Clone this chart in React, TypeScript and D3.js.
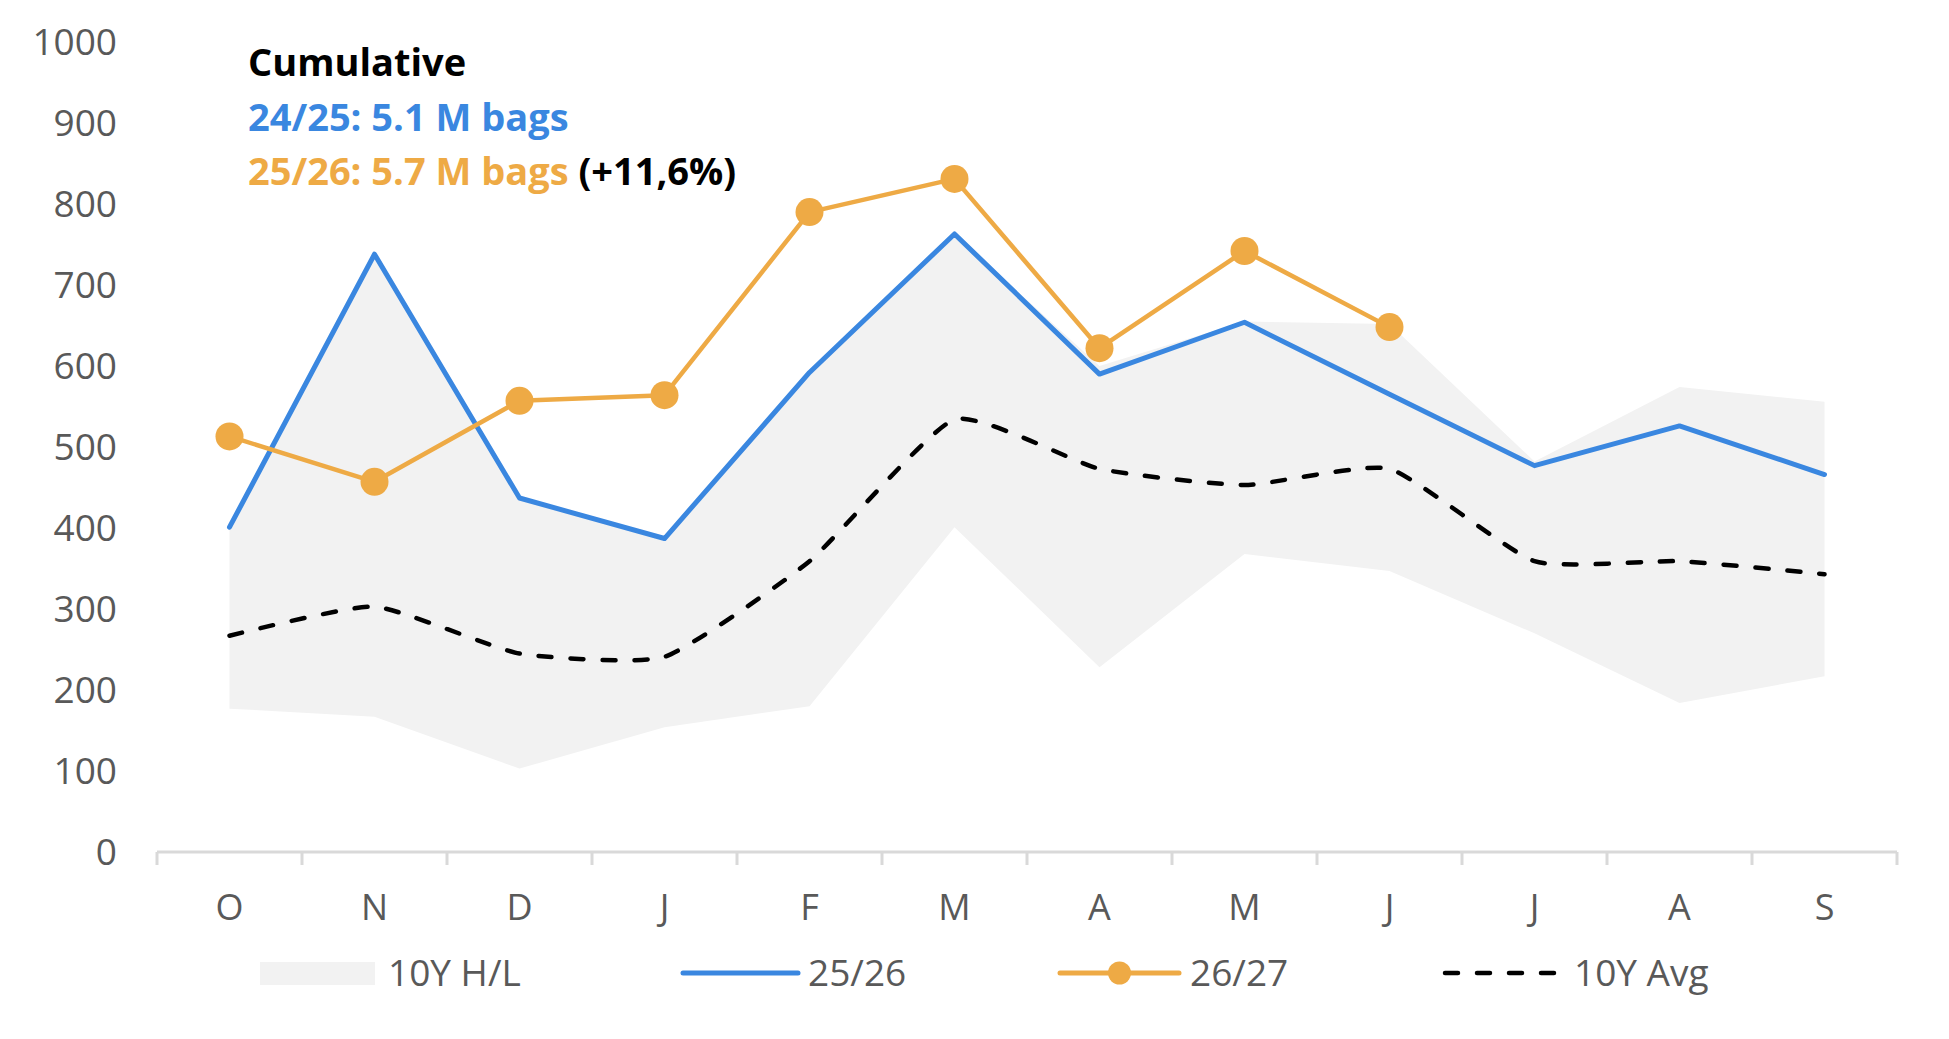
import React, { useRef, useEffect } from 'react';
import * as d3 from 'd3';

// month labels (Oct -> Sep)
const months = ['O', 'N', 'D', 'J', 'F', 'M', 'A', 'M', 'J', 'J', 'A', 'S'];

// 25/26 season
const season2526 = [401, 738, 437, 387, 592, 763, 590, 654, 565, 477, 526, 466];
// 26/27 season (to date)
const season2627 = [513, 457, 557, 564, 790, 831, 622, 742, 648];
// 10 year average
const avg10y = [267, 303, 245, 241, 359, 534, 473, 453, 473, 359, 359, 343];
// 10 year high / low band
const high10y = [401, 738, 437, 387, 592, 763, 600, 655, 652, 482, 574, 556];
const low10y = [177, 167, 103, 154, 180, 401, 228, 368, 347, 270, 184, 217];

const yTicks = [0, 100, 200, 300, 400, 500, 600, 700, 800, 900, 1000];

const titleLines = [
  { text: 'Cumulative', color: '#000000', extra: '' },
  { text: '24/25: 5.1 M bags', color: '#3A87E0', extra: '' },
  { text: '25/26: 5.7 M bags', color: '#EEAA45', extra: ' (+11,6%)' }
];

const BLUE = '#3A87E0';
const ORANGE = '#EEAA45';
const BAND = '#F2F2F2';
const TEXT = '#595959';
const FONT = '"Open Sans", sans-serif';

const W = 1949;
const H = 1039;

const App: React.FC = () => {
  const svgRef = useRef<SVGSVGElement>(null);

  useEffect(() => {
    document.body.style.margin = '0';
    if (!svgRef.current) return;

    const svg = d3.select(svgRef.current);
    svg.selectAll('*').remove();

    const x = d3.scaleBand<number>()
      .domain(months.map((_, i) => i))
      .range([157, 1897]);
    const cx = (i: number) => (x(i) || 0) + x.bandwidth() / 2;

    const y = d3.scaleLinear().domain([0, 1000]).range([852, 42]);

    // high/low band
    const area = d3.area<number>()
      .x((_, i) => cx(i))
      .y0((_, i) => y(low10y[i]))
      .y1(d => y(d));
    svg.append('path')
      .attr('d', area(high10y))
      .attr('fill', BAND);

    // 10Y avg (lightly smoothed)
    const smooth = d3.line<number>()
      .x((_, i) => cx(i))
      .y(d => y(d))
      .curve(d3.curveCardinal.tension(0.5));
    svg.append('path')
      .attr('d', smooth(avg10y))
      .attr('fill', 'none')
      .attr('stroke', '#000')
      .attr('stroke-width', 4.5)
      .attr('stroke-linecap', 'round')
      .attr('stroke-dasharray', '13 19');

    const line = d3.line<number>()
      .x((_, i) => cx(i))
      .y(d => y(d));

    // 25/26
    svg.append('path')
      .attr('d', line(season2526))
      .attr('fill', 'none')
      .attr('stroke', BLUE)
      .attr('stroke-width', 5)
      .attr('stroke-linejoin', 'round')
      .attr('stroke-linecap', 'round');

    // 26/27 with markers
    svg.append('path')
      .attr('d', line(season2627))
      .attr('fill', 'none')
      .attr('stroke', ORANGE)
      .attr('stroke-width', 4.5)
      .attr('stroke-linejoin', 'round');
    svg.selectAll('circle.pt')
      .data(season2627)
      .enter().append('circle')
      .attr('class', 'pt')
      .attr('cx', (_, i) => cx(i))
      .attr('cy', d => y(d))
      .attr('r', 14)
      .attr('fill', ORANGE);

    // x axis
    const xAxis = svg.append('g');
    xAxis.append('line')
      .attr('x1', 157).attr('x2', 1897)
      .attr('y1', y(0)).attr('y2', y(0))
      .attr('stroke', '#D9D9D9')
      .attr('stroke-width', 3);
    const edges = months.map((_, i) => x(i) || 0).concat([1897]);
    xAxis.selectAll('line.tick')
      .data(edges)
      .enter().append('line')
      .attr('class', 'tick')
      .attr('x1', d => d).attr('x2', d => d)
      .attr('y1', y(0)).attr('y2', y(0) + 13)
      .attr('stroke', '#D9D9D9')
      .attr('stroke-width', 3);
    xAxis.selectAll('text')
      .data(months)
      .enter().append('text')
      .attr('x', (_, i) => cx(i))
      .attr('y', 920)
      .attr('text-anchor', 'middle')
      .attr('font-family', FONT)
      .attr('font-size', 36)
      .attr('fill', TEXT)
      .text(d => d);

    // y labels
    svg.append('g').selectAll('text')
      .data(yTicks)
      .enter().append('text')
      .attr('x', 117)
      .attr('y', d => y(d))
      .attr('dy', '0.36em')
      .attr('text-anchor', 'end')
      .attr('font-family', FONT)
      .attr('font-size', 37)
      .attr('fill', TEXT)
      .text(d => d);

    // title block
    const title = svg.append('g');
    titleLines.forEach((l, i) => {
      const t = title.append('text')
        .attr('x', 248)
        .attr('y', 76 + i * 54.5)
        .attr('font-family', FONT)
        .attr('font-weight', 700)
        .attr('font-size', 38)
        .attr('fill', l.color)
        .text(l.text);
      if (l.extra) {
        t.append('tspan').attr('fill', '#000').text(l.extra);
      }
    });

    // legend
    const lg = svg.append('g');
    const ly = 973;
    const legendText = (tx: number, label: string) => lg.append('text')
      .attr('x', tx)
      .attr('y', ly)
      .attr('dy', '0.36em')
      .attr('font-family', FONT)
      .attr('font-size', 37)
      .attr('fill', TEXT)
      .text(label);

    lg.append('rect')
      .attr('x', 260).attr('y', 962)
      .attr('width', 115).attr('height', 23)
      .attr('fill', BAND);
    legendText(388, '10Y H/L');

    lg.append('line')
      .attr('x1', 683).attr('x2', 798)
      .attr('y1', ly).attr('y2', ly)
      .attr('stroke', BLUE).attr('stroke-width', 5)
      .attr('stroke-linecap', 'round');
    legendText(808, '25/26');

    lg.append('line')
      .attr('x1', 1060).attr('x2', 1179)
      .attr('y1', ly).attr('y2', ly)
      .attr('stroke', ORANGE).attr('stroke-width', 5)
      .attr('stroke-linecap', 'round');
    lg.append('circle')
      .attr('cx', 1119.5).attr('cy', ly)
      .attr('r', 11.5)
      .attr('fill', ORANGE);
    legendText(1190, '26/27');

    lg.append('line')
      .attr('x1', 1445).attr('x2', 1557)
      .attr('y1', ly).attr('y2', ly)
      .attr('stroke', '#000').attr('stroke-width', 4.5)
      .attr('stroke-linecap', 'round')
      .attr('stroke-dasharray', '13 19');
    legendText(1574, '10Y Avg');
  }, []);

  return (
    <svg
      ref={svgRef}
      width={W}
      height={H}
      style={{ display: 'block', background: '#fff' }}
    />
  );
};

export default App;
